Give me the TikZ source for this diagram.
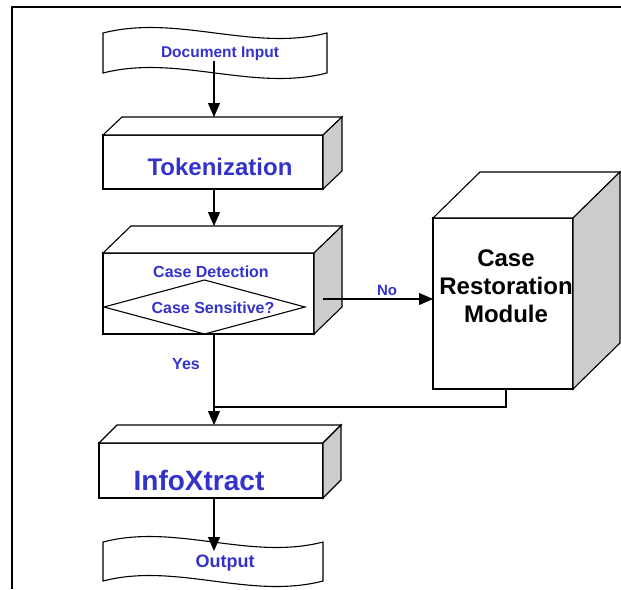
\documentclass[tikz,border=0pt]{standalone}
\usepackage{fontspec}
\setmainfont{Liberation Sans}
\usetikzlibrary{arrows.meta,shapes.geometric,calc}
\definecolor{txtblue}{RGB}{51,51,204}
\definecolor{sidegray}{RGB}{204,204,204}
\newcommand{\boxfaces}[3]{%
  \draw[fill=white] (#1.north west) -- ++(#2,-#3) -- ($(#1.north east)+(#2,-#3)$) -- (#1.north east) -- cycle;
  \draw[fill=sidegray] (#1.north east) -- ++(#2,-#3) -- ($(#1.south east)+(#2,-#3)$) -- (#1.south east) -- cycle;
}
\newcommand{\fs}[1]{\fontsize{#1}{#1}\selectfont\bfseries}
\begin{document}
\begin{tikzpicture}[x=1pt,y=-1pt,line width=1.1pt,
  frontface/.style={draw=black,fill=white,rectangle,inner sep=0pt,outer sep=0pt},
  btext/.style={text=txtblue,inner sep=0pt},
  arr/.style={-{Triangle[length=14pt,width=12pt]}}]
\useasboundingbox (0,0) rectangle (621,589);
% frame
\draw[line width=2pt] (12,589) -- (12,7) -- (621,7);
% tapes
\draw[fill=white] (103,33) .. controls (177.7,14) and (252.3,52) .. (327,33)
  -- (327,73) .. controls (252.3,92) and (177.7,54) .. (103,73) -- cycle;
\draw[fill=white] (103,542) .. controls (176.3,523) and (249.7,561) .. (323,542)
  -- (323,581) .. controls (249.7,600) and (176.3,562) .. (103,581) -- cycle;
% boxes
\node[frontface,minimum width=220pt,minimum height=54pt] (tok) at (213,162) {};
\boxfaces{tok}{19}{18}
\node[frontface,minimum width=211pt,minimum height=81pt] (cd) at (208.5,293.5) {};
\boxfaces{cd}{28}{27}
\node[diamond,draw,minimum width=201pt,minimum height=54pt,inner sep=0pt,outer sep=0pt] (cs) at (204.5,307) {};
\node[frontface,minimum width=140pt,minimum height=171pt] (crm) at (503,303.5) {};
\boxfaces{crm}{47}{46}
\node[frontface,minimum width=224pt,minimum height=55pt] (ix) at (211,470.5) {};
\boxfaces{ix}{18}{18}
% texts
\node[btext,font=\fs{15.5}] (dint) at (220,53.5) {Document Input};
\node[btext,font=\fs{24}] (tokt) at (220,167) {Tokenization};
\node[btext,font=\fs{16}] (cdt) at (211,272) {Case Detection};
\node[btext,font=\fs{16}] (cst) at (213,308) {Case Sensitive?};
\node[btext,font=\fs{16}] (yes) at (186,364) {Yes};
\node[btext,font=\fs{15}] (no) at (387,290) {No};
\node[inner sep=0pt,align=center,font=\fontsize{24}{28}\selectfont\bfseries] (crmt) at (506,286) {Case\\Restoration\\Module};
\node[btext,font=\fs{28}] (ixt) at (199,480) {InfoXtract};
\node[btext,font=\fs{18}] (outt) at (225,563.5) {Output};
% connectors
\coordinate (spine) at (214,0);
\coordinate (tokTop) at ($(tok.north)+(0,-18)$);
\coordinate (cdTop) at ($(cd.north)+(0,-27)$);
\coordinate (ixTop) at ($(ix.north)+(0,-18)$);
\coordinate (outTop) at (214,551);
\coordinate (noStart) at (323,299);
\coordinate (crmOut) at (506,389);
\coordinate (join) at (214,407);
\draw[arr] (dint.south -| spine) -- (tokTop -| spine);
\draw[arr] (tok.south -| spine) -- (cdTop -| spine);
\draw[arr] (cd.south -| spine) -- (ixTop -| spine);
\draw[arr] (noStart) -- (crm.west |- noStart);
\draw (crmOut) |- (join);
\draw[arr] (ix.south -| spine) -- (outTop);
\end{tikzpicture}
\end{document}
